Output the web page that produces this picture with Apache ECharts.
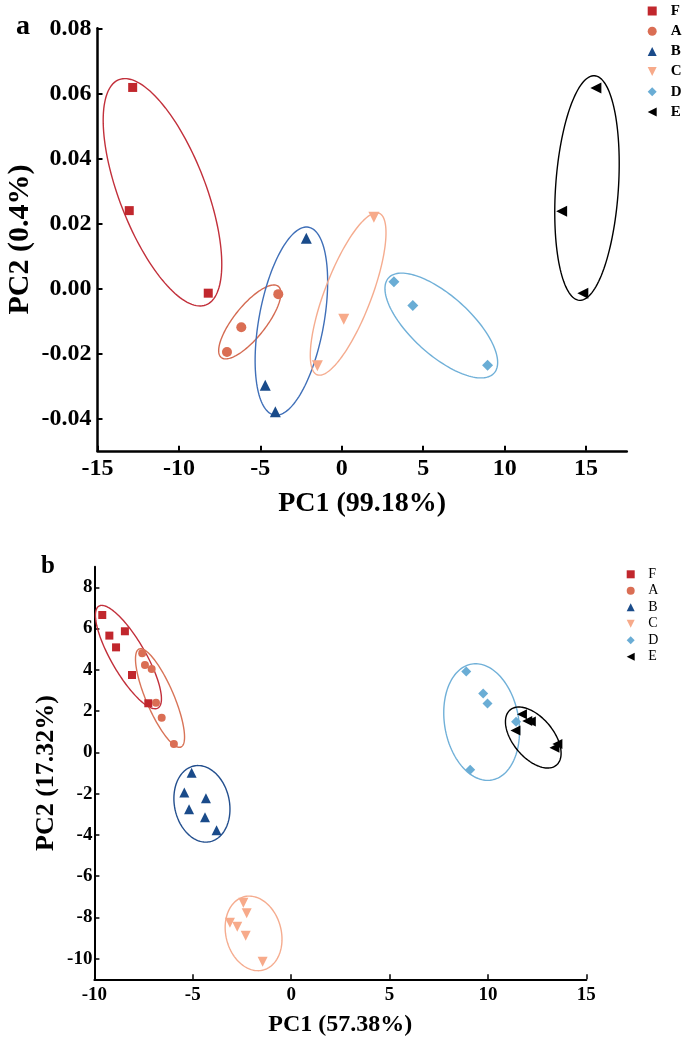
<!DOCTYPE html>
<html><head><meta charset="utf-8">
<script src="https://cdn.jsdelivr.net/npm/echarts@6/dist/echarts.min.js"></script>
<style>html,body{margin:0;padding:0;background:#fff}#c{width:685px;height:1041px}</style>
</head><body><div id="c"></div>
<script>
// ---------- DATA ----------
const groups = ['F', 'A', 'B', 'C', 'D', 'E'];

// panel a (PC1 99.18%, PC2 0.4%)
const aF = [[-12.84, 0.0618], [-13.05, 0.0239], [-8.20, -0.0015]];
const aA = [[-3.90, -0.0018], [-6.17, -0.0120], [-7.05, -0.0196]];
const aB = [[-2.18, 0.0154], [-4.70, -0.0298], [-4.08, -0.0380]];
const aC = [[1.97, 0.0219], [0.12, -0.0095], [-1.50, -0.0238]];
const aD = [[3.20, 0.0020], [4.36, -0.0053], [8.95, -0.0237]];
const aE = [[15.60, 0.0616], [13.50, 0.0237], [14.80, -0.0015]];
// ellipses: major-axis end 1 (x,y), end 2 (x,y), minor/major ratio
const aEllipses = [
  [-13.68, 0.0642, -8.34, -0.0051, 0.358],
  [-3.90, 0.0006, -7.40, -0.0213, 0.35],
  [-2.04, 0.0188, -4.15, -0.0390, 0.34],
  [2.29, 0.0231, -1.51, -0.0266, 0.27],
  [2.87, 0.0032, 9.35, -0.0261, 0.415],
  [15.52, 0.0654, 14.59, -0.0037, 0.279]
];
const aXTicks = [-15, -10, -5, 0, 5, 10, 15];
const aYTicks = [-0.04, -0.02, 0, 0.02, 0.04, 0.06, 0.08];

// panel b (PC1 57.38%, PC2 17.32%)
const bF = [[-9.60, 6.66], [-9.24, 5.66], [-8.45, 5.87], [-8.90, 5.09], [-8.09, 3.75], [-7.26, 2.38]];
const bA = [[-7.57, 4.80], [-7.43, 4.24], [-7.09, 4.04], [-6.87, 2.41], [-6.58, 1.68], [-5.96, 0.41]];
const bB = [[-5.06, -0.99], [-5.43, -1.95], [-4.33, -2.23], [-5.19, -2.76], [-4.38, -3.15], [-3.79, -3.78]];
const bC = [[-2.43, -7.29], [-2.26, -7.80], [-3.11, -8.26], [-2.74, -8.45], [-2.31, -8.89], [-1.45, -10.15]];
const bD = [[8.90, 3.92], [9.76, 2.85], [9.98, 2.37], [11.43, 1.48], [9.10, -0.84]];
const bE = [[11.73, 1.85], [12.00, 1.52], [12.18, 1.50], [11.40, 1.06], [13.38, 0.23], [13.53, 0.40]];
const bEllipses = [
  [-9.77, 7.09, -6.77, 2.15, 0.29],
  [-7.73, 5.01, -5.60, 0.26, 0.26],
  [-4.94, -0.66, -4.13, -4.33, 0.71],
  [-2.40, -7.00, -1.42, -10.55, 0.73],
  [9.17, 4.28, 10.19, -1.34, 0.63],
  [11.13, 2.06, 13.48, -0.62, 0.56]
];
const bXTicks = [-10, -5, 0, 5, 10, 15];
const bYTicks = [-10, -8, -6, -4, -2, 0, 2, 4, 6, 8];

// ---------- STYLE ----------
const FONT = 'Liberation Serif';
const markerColors = ['#C1272D', '#DA6E54', '#1A4B8A', '#F7AA8A', '#6AADD5', '#000000'];
const ellipseColorsA = ['#C2303B', '#D46B52', '#3F6FB8', '#F5AC8F', '#70B0D8', '#000000'];
const ellipseColorsB = ['#C2303B', '#D87458', '#234F8E', '#F5AC8F', '#70B0D8', '#000000'];
const symbols = ['rect', 'circle', 'triangle', 'triangle', 'diamond', 'triangle'];
const rotations = [0, 0, 0, 180, 0, 90];
const legendIcons = ['rect', 'circle', 'triangle', 'path://M0,0L10,0L5,10Z', 'diamond', 'path://M10,0L10,10L0,5Z'];
const sizesA = [9, 10, 11, 11, 11, 11];
const sizesB = [8, 8, 10, 10, 10, 10];

function ellipseRenderer(colors) {
  return function (params, api) {
    const p1 = api.coord([api.value(0), api.value(1)]);
    const p2 = api.coord([api.value(2), api.value(3)]);
    const ratio = api.value(4);
    const cx = (p1[0] + p2[0]) / 2, cy = (p1[1] + p2[1]) / 2;
    const dx = (p1[0] - p2[0]) / 2, dy = (p1[1] - p2[1]) / 2;
    const a = Math.hypot(dx, dy), ux = dx / a, uy = dy / a, b = a * ratio;
    const pts = [];
    for (let i = 0; i < 144; i++) {
      const t = i / 144 * Math.PI * 2;
      const c = Math.cos(t) * a, s = Math.sin(t) * b;
      pts.push([cx + c * ux - s * uy, cy + c * uy + s * ux]);
    }
    return { type: 'polygon', shape: { points: pts }, silent: true,
      style: { fill: 'none', stroke: colors[params.dataIndex], lineWidth: 1.4 } };
  };
}

const dataA = [aF, aA, aB, aC, aD, aE];
const dataB = [bF, bA, bB, bC, bD, bE];

const series = [];
series.push({ type: 'custom', name: 'ellipse-a', xAxisIndex: 0, yAxisIndex: 0, z: 1,
  renderItem: ellipseRenderer(ellipseColorsA), data: aEllipses, dimensions: ['x1','y1','x2','y2','r'],
  encode: { x: [0, 2], y: [1, 3] } });
series.push({ type: 'custom', name: 'ellipse-b', xAxisIndex: 1, yAxisIndex: 1, z: 1,
  renderItem: ellipseRenderer(ellipseColorsB), data: bEllipses, dimensions: ['x1','y1','x2','y2','r'],
  encode: { x: [0, 2], y: [1, 3] } });
groups.forEach((g, i) => {
  series.push({ type: 'scatter', name: g, xAxisIndex: 0, yAxisIndex: 0, z: 3, data: dataA[i],
    symbol: symbols[i], symbolRotate: rotations[i], symbolSize: sizesA[i],
    itemStyle: { color: markerColors[i], opacity: 1 } });
  series.push({ type: 'scatter', name: g, xAxisIndex: 1, yAxisIndex: 1, z: 3, data: dataB[i],
    symbol: symbols[i], symbolRotate: rotations[i], symbolSize: sizesB[i],
    itemStyle: { color: markerColors[i], opacity: 1 } });
});

function valAxis(o) {
  return {
    type: 'value', gridIndex: o.grid, min: o.min, max: o.max, interval: o.interval,
    axisLine: { show: true, onZero: false, lineStyle: { color: '#000', width: o.lw } },
    axisTick: { show: true, inside: true, length: 5, customValues: o.ticks, lineStyle: { color: '#000', width: o.lw - 0.5 } },
    axisLabel: { customValues: o.ticks, formatter: o.fmt, color: '#000', fontFamily: FONT, fontWeight: 'bold',
      fontSize: o.fs, margin: o.margin, showMinLabel: true, showMaxLabel: true },
    splitLine: { show: false },
    name: o.name, nameLocation: 'middle', nameGap: o.nameGap, nameRotate: o.nameRotate, nameMoveOverlap: false,
    nameTextStyle: { color: '#000', fontFamily: FONT, fontWeight: 'bold', fontSize: o.nfs }
  };
}

const legendData = groups.map((g, i) => ({ name: g, icon: legendIcons[i] }));

const option = {
  animation: false,
  backgroundColor: '#fff',
  grid: [
    { left: 97.5, top: 28.3, width: 529.3, height: 422.5, containLabel: false, outerBoundsMode: 'none' },
    { left: 94.4, top: 566.7, width: 491.9, height: 412.6, containLabel: false, outerBoundsMode: 'none' }
  ],
  xAxis: [
    valAxis({ grid: 0, min: -15, max: 17.5, interval: 5, ticks: aXTicks, lw: 2.5, fs: 24, margin: 6,
      fmt: v => String(v), name: 'PC1 (99.18%)', nameGap: 39, nfs: 28 }),
    valAxis({ grid: 1, min: -10, max: 15, interval: 5, ticks: bXTicks, lw: 2, fs: 19, margin: 6,
      fmt: v => String(v), name: 'PC1 (57.38%)', nameGap: 33, nfs: 24 })
  ],
  yAxis: [
    valAxis({ grid: 0, min: -0.05, max: 0.08, interval: 0.01, ticks: aYTicks, lw: 2.5, fs: 24, margin: 6,
      fmt: v => v.toFixed(2), name: 'PC2 (0.4%)', nameGap: 62, nameRotate: 90, nfs: 30 }),
    valAxis({ grid: 1, min: -11, max: 9, interval: 1, ticks: bYTicks, lw: 2, fs: 19, margin: 2,
      fmt: v => String(v), name: 'PC2 (17.32%)', nameGap: 35, nameRotate: 90, nfs: 26 })
  ],
  legend: [
    { data: legendData, orient: 'vertical', left: 647.7, top: 3.5, padding: 0, itemWidth: 9, itemHeight: 9, itemGap: 5.2,
      selectedMode: false, textStyle: { color: '#000', fontFamily: FONT, fontWeight: 'bold', fontSize: 15, padding: [0, 0, 0, 9] } },
    { data: legendData, orient: 'vertical', left: 626.7, top: 567.3, padding: 0, itemWidth: 8, itemHeight: 8, itemGap: 2.5,
      selectedMode: false, textStyle: { color: '#000', fontFamily: FONT, fontSize: 14, padding: [0, 0, 0, 8.6] } }
  ],
  graphic: [
    { type: 'text', left: 16, top: 13, style: { text: 'a', font: 'bold 28px "Liberation Serif"', fill: '#000' } },
    { type: 'text', left: 41, top: 554, style: { text: 'b', font: 'bold 25px "Liberation Serif"', fill: '#000' } }
  ],
  series: series
};

const chart = echarts.init(document.getElementById('c'), null, { renderer: 'canvas' });
chart.setOption(option);
</script>
</body></html>
